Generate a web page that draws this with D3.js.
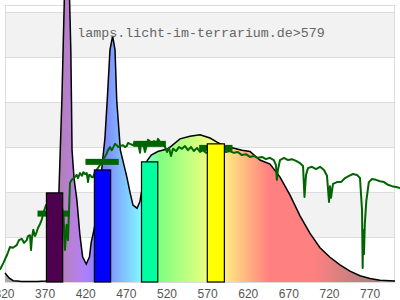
<!DOCTYPE html>
<html><head><meta charset="utf-8">
<script src="https://cdn.jsdelivr.net/npm/d3@7"></script>
<style>html,body{margin:0;padding:0;background:#fff}svg{display:block}</style>
</head><body>
<svg id="c" width="400" height="300"></svg>
<script>
// Lamp spectrum (relative units, 1 = one grid band)
const specNm  = [320,325,330,335,340,350,360,370,375,380,383,386,388,390,391.5,393,396,399.5,401,401.8,402.5,405,408.5,412,415.5,420,424,426,430,435,439,443,446,449.2,452.5,455.4,457.5,462,470,474,477.5,482.5,486,489,492,495,500,508,520.6,535.4,547.7,560,572.3,580.9,590.8,600.6,611.7,621.5,633.8,646.2,658.5,670.8,683.1,695.4,707.7,720,732.3,744.6,756.9,769.2,781.5,800];
const specVal = [0.2,0.09,0.03,0.02,0.01,0.01,0.01,0.02,0.03,0.15,0.6,1.8,2.93,4.04,5.16,6.27,9.5,6.27,5.16,4.04,2.93,2.3,1.82,1.08,0.56,0.4,0.56,0.87,1.2,1.8,2.5,3.2,4.1,5.16,5.47,5.16,4.04,2.93,2.33,1.98,1.71,1.64,1.78,2.1,2.5,2.7,2.82,2.9,2.96,3.18,3.24,3.27,3.2,3.11,3.02,2.98,2.93,2.9,2.71,2.62,2.33,1.93,1.47,1.08,0.76,0.55,0.38,0.24,0.14,0.08,0.04,0.02];

// Reference (daylight) spectrum, green line
const refNm  = [313.8,317.9,322.5,326.2,329.8,334.4,337.2,340.6,343.4,346.7,348.3,350.8,352,353.2,354.8,356.9,359,360.6,363.1,365.2,367.1,370.5,381.5,390.2,392,393.8,395.7,397.5,400,402.1,404.9,408.2,409.8,412.3,414.8,416.4,418.5,420.6,422.2,423.4,424.6,426.7,428.3,430.8,436.9,440.6,444.3,446.8,449.2,451.3,452.9,455.4,457.5,459.1,461.5,465.2,467.7,469.8,471.4,473.8,477.5,480,483.7,486.2,487.4,489.8,492.3,494.4,496,500.6,503.4,506.7,508.3,510.8,514.5,516.9,519.4,521.8,524.3,526.8,530.5,534.2,537.8,541.5,545.2,548.9,552.6,556.3,560,563.7,567.4,574.8,584.6,591.8,596.8,601.7,606.6,611.5,616.5,621.4,626.3,631.2,636.2,641.1,646,650.9,653.4,654.6,655.9,658.5,663.4,668.3,673.2,678.2,683.1,686.8,688.6,690.5,692.9,697.8,702.8,707.7,712.6,716.3,718.8,720,721.2,723.7,728.6,733.5,738.5,743.4,748.3,753.2,756.9,759.4,760.2,760.8,761.8,762.9,764.7,767.8,771.7,776.6,781.5,786.5,791.4,796.3,801.2,806.2];
const refVal = [0.27,0.42,0.6,0.78,0.76,0.82,0.93,0.96,0.87,0.93,1.02,1.04,0.71,0.98,1.16,1.02,1.11,1.2,1.29,1.38,1.53,1.71,1.82,1.64,1.49,0.71,1.27,0.93,2.2,2.27,2.31,2.38,2.31,2.42,2.36,2.44,2.4,2.42,2.22,2.38,2.38,2.33,2.33,2.44,2.6,2.71,2.82,2.93,3.0,2.93,2.98,3.07,3.04,3.0,3.02,3.04,3.0,3.02,3.09,3.07,3.04,3.11,3.11,2.87,3.09,3.09,2.89,3.04,3.16,3.09,3.13,3.09,3.18,3.11,3.07,3.0,2.89,2.98,2.8,2.96,2.91,3.0,2.96,3.02,2.93,3.0,2.91,2.98,2.89,2.93,2.87,2.91,2.93,2.89,2.91,2.87,2.89,2.82,2.84,2.78,2.8,2.76,2.78,2.73,2.76,2.71,2.6,2.27,2.49,2.71,2.76,2.71,2.73,2.69,2.64,2.58,1.89,2.38,2.53,2.56,2.51,2.56,2.49,2.36,1.78,2.13,1.87,2.18,2.22,2.22,2.31,2.36,2.4,2.38,2.31,1.6,0.31,1.16,0.62,1.3,1.8,2.22,2.29,2.27,2.24,2.22,2.16,2.13,2.11,2.09];

// Lamp bars
const barStart = [371, 430, 488, 569];
const barEnd   = [391, 450, 508, 590];
const barVal   = [1.98, 2.49, 2.67, 3.07];
const barColor = ["#4d004d", "#0000ff", "#00ffa0", "#ffff00"];

// Reference markers
const markStart = [360, 419, 478, 559];
const markEnd   = [400, 460, 518, 600];
const markVal   = [1.52, 2.67, 3.07, 2.98];

const tickVals = [320, 370, 420, 470, 520, 570, 620, 670, 720, 770];
const titleText = "lamps.licht-im-terrarium.de>579";

const svg = d3.select("#c");
const x = d3.scaleLinear().domain([320, 800]).range([5, 395]);
const y = d3.scaleLinear().domain([0, 6]).range([282, 12]);

// background bands
[1, 3, 5].forEach(i => {
  svg.append("rect").attr("x", x(320)).attr("y", y(i + 1))
    .attr("width", x(800) - x(320)).attr("height", y(i) - y(i + 1)).attr("fill", "#f2f2f2");
});
d3.range(0, 7).forEach(i => {
  svg.append("line").attr("x1", x(320)).attr("x2", x(800))
    .attr("y1", Math.round(y(i)) + 0.5).attr("y2", Math.round(y(i)) + 0.5)
    .attr("stroke", "#dcdcdc").attr("stroke-width", 1);
});
svg.append("rect").attr("x", 5.5).attr("y", 5.5).attr("width", 389).attr("height", 277)
  .attr("fill", "none").attr("stroke", "#dcdcdc");

// spectral gradient
function wl2rgb(w) {
  if (w < 380 || w > 780) return "#aaaaaa";
  let r = 0, g = 0, b = 0;
  if (w < 440) { r = -(w - 440) / 60; b = 1; }
  else if (w < 490) { g = (w - 440) / 50; b = 1; }
  else if (w < 510) { g = 1; b = -(w - 510) / 20; }
  else if (w < 580) { r = (w - 510) / 70; g = 1; }
  else if (w < 645) { r = 1; g = -(w - 645) / 65; }
  else { r = 1; }
  let f = 1;
  if (w < 420) f = 0.3 + 0.7 * (w - 380) / 40;
  else if (w > 700) f = 0.3 + 0.7 * (780 - w) / 80;
  const c = v => Math.round(127.5 + 127.5 * v * f);
  return d3.rgb(c(r), c(g), c(b)).formatHex();
}
const defs = svg.append("defs");
const grad = defs.append("linearGradient").attr("id", "sp")
  .attr("gradientUnits", "userSpaceOnUse")
  .attr("x1", x(320)).attr("x2", x(800)).attr("y1", 0).attr("y2", 0);
d3.range(320, 801, 2).forEach(w => {
  grad.append("stop").attr("offset", (w - 320) / 480).attr("stop-color", wl2rgb(w));
});

const spec = specNm.map((n, i) => [n, specVal[i]]);
svg.append("path").datum(spec)
  .attr("d", d3.area().x(d => x(d[0])).y0(y(0)).y1(d => y(d[1])))
  .attr("fill", "url(#sp)");
svg.append("path").datum(spec)
  .attr("d", d3.line().x(d => x(d[0])).y(d => y(d[1])))
  .attr("fill", "none").attr("stroke", "#000").attr("stroke-width", 1.5);

// reference line
const ref = refNm.map((n, i) => [n, refVal[i]]);
svg.append("path").datum(ref)
  .attr("d", d3.line().x(d => x(d[0])).y(d => y(d[1])))
  .attr("fill", "none").attr("stroke", "#006400").attr("stroke-width", 2)
  .attr("stroke-linejoin", "round");

// markers
markVal.forEach((v, i) => {
  svg.append("rect").attr("x", x(markStart[i])).attr("y", y(v) - 3)
    .attr("width", x(markEnd[i]) - x(markStart[i])).attr("height", 6)
    .attr("fill", "#006400");
});

// bars
barVal.forEach((v, i) => {
  svg.append("rect").attr("x", x(barStart[i])).attr("y", y(v))
    .attr("width", x(barEnd[i]) - x(barStart[i])).attr("height", y(0) - y(v))
    .attr("fill", barColor[i]).attr("stroke", "#000").attr("stroke-width", 1.2);
});

// x axis
const ax = svg.append("g").attr("transform", "translate(-1,0)")
  .call(d3.axisBottom(x).tickValues(tickVals).tickSize(0).tickFormat(d3.format("d")));
ax.select(".domain").remove();
ax.selectAll("text").attr("dy", null).attr("y", 297.5)
  .attr("font-family", "'Liberation Sans', Arial, sans-serif").attr("font-size", 12)
  .attr("fill", "#555");

// title
svg.append("text").attr("x", 201).attr("y", 36.5).attr("text-anchor", "middle")
  .attr("font-family", "'Liberation Mono', 'DejaVu Sans Mono', monospace").attr("font-size", 13.3)
  .attr("fill", "#666").text(titleText);
</script>
</body></html>
